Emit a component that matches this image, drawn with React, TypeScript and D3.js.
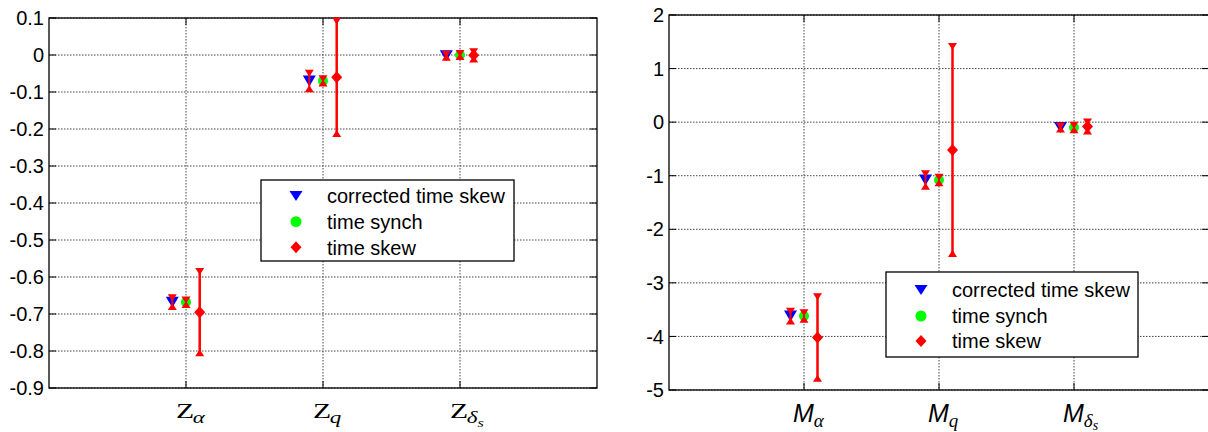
import React from 'react';
import * as d3 from 'd3';

// ---------- data ----------
const seriesNames = ['corrected time skew', 'time synch', 'time skew'];
const categoryPositions = [1, 2, 3];
const seriesOffsets = [-0.1, 0, 0.1];

const zSubscripts = ['α', 'q', 'δ'];
const mSubscripts = ['α', 'q', 'δ'];

const zCorrected = [-0.668, -0.07, -0.002];
const zCorrectedErr = [0.012, 0.021, 0.004];
const zSynch = [-0.668, -0.07, 0.0];
const zSynchErr = [0.006, 0.006, 0.004];
const zSkew = [-0.695, -0.06, -0.001];
const zSkewErr = [0.11, 0.152, 0.01];

const mCorrected = [-3.62, -1.08, -0.1];
const mCorrectedErr = [0.09, 0.115, 0.03];
const mSynch = [-3.62, -1.08, -0.1];
const mSynchErr = [0.06, 0.05, 0.04];
const mSkew = [-4.02, -0.52, -0.08];
const mSkewErr = [0.76, 1.93, 0.085];

const zTicks = [0.1, 0, -0.1, -0.2, -0.3, -0.4, -0.5, -0.6, -0.7, -0.8, -0.9];
const zTickLabels = ['0.1', '0', '-0.1', '-0.2', '-0.3', '-0.4', '-0.5', '-0.6', '-0.7', '-0.8', '-0.9'];
const mTicks = [2, 1, 0, -1, -2, -3, -4, -5];
const mTickLabels = ['2', '1', '0', '-1', '-2', '-3', '-4', '-5'];

const SANS = '"Liberation Sans", Arial, Helvetica, sans-serif';
const SERIF = '"Liberation Serif", "Times New Roman", serif';
const RED = '#ff0000';

const triDown = (cx: number, cy: number, w: number, h: number) =>
  `M${cx - w / 2},${cy - h / 2}L${cx + w / 2},${cy - h / 2}L${cx},${cy + h / 2}Z`;
const triUp = (cx: number, cy: number, w: number, h: number) =>
  `M${cx - w / 2},${cy + h / 2}L${cx + w / 2},${cy + h / 2}L${cx},${cy - h / 2}Z`;
const diamond = (cx: number, cy: number, w: number, h: number) =>
  `M${cx},${cy - h / 2}L${cx + w / 2},${cy}L${cx},${cy + h / 2}L${cx - w / 2},${cy}Z`;

type PanelProps = {
  x0: number; x1: number; y0: number; y1: number;
  yDomain: [number, number];
  ticks: number[]; tickLabels: string[];
  values: number[][]; errs: number[][];
  letter: string; subs: string[];
  serifLetter: boolean;
  labelBaseline: number; labelShift: number;
  legend: { x: number; y: number; w: number; h: number; rows: number[] };
};

function Panel(p: PanelProps) {
  const x = d3.scaleLinear().domain([0, 4]).range([p.x0, p.x1]);
  const y = d3.scaleLinear().domain(p.yDomain).range([p.y1, p.y0]);
  const tickLen = 7;
  const capW = 9, capH = 7;

  const errorBar = (cx: number, v: number, e: number, key: string, sw: number) => (
    <g key={key}>
      <line x1={cx} x2={cx} y1={y(v + e)} y2={y(v - e)} stroke={RED} strokeWidth={sw} />
      <path d={triDown(cx, y(v + e), capW, capH)} fill={RED} />
      <path d={triUp(cx, y(v - e), capW, capH)} fill={RED} />
    </g>
  );

  const label = (c: number, i: number) => {
    const lx = x(c) + p.labelShift;
    const b = p.labelBaseline;
    if (p.serifLetter) {
      return (
        <text key={'xl' + i} x={0} y={0} transform={`translate(${lx},${b}) scale(1.35,1)`} fontFamily={SERIF} fontSize={22} fill="#000">
          <tspan>{p.letter}</tspan>
          <tspan fontStyle="italic" fontSize={17} dx={-1} dy={5}>{p.subs[i]}</tspan>
          {i === 2 ? <tspan fontStyle="italic" fontSize={12} dy={4}>s</tspan> : null}
        </text>
      );
    }
    return (
      <text key={'xl' + i} x={lx} y={b} fontSize={25} fill="#000">
        <tspan fontFamily={SANS} fontStyle="italic">{p.letter}</tspan>
        <tspan fontFamily={SERIF} fontStyle="italic" fontSize={19} dy={5}>{p.subs[i]}</tspan>
        {i === 2 ? <tspan fontFamily={SERIF} fontStyle="italic" fontSize={14} dy={3}>s</tspan> : null}
      </text>
    );
  };

  return (
    <g>
      <defs>
        <clipPath id={`clip${p.x0}`}>
          <rect x={p.x0} y={p.y0 - 1} width={p.x1 - p.x0} height={p.y1 - p.y0 + 2} />
        </clipPath>
      </defs>
      {/* grid */}
      {p.ticks.map((t, i) => (
        <line key={'gy' + i} x1={p.x0} x2={p.x1} y1={y(t)} y2={y(t)} stroke="#444" strokeWidth={1} strokeDasharray="1.5,1.5" />
      ))}
      {categoryPositions.map((c, i) => (
        <line key={'gx' + i} x1={x(c)} x2={x(c)} y1={p.y0} y2={p.y1} stroke="#444" strokeWidth={1} strokeDasharray="1.5,1.5" />
      ))}
      {/* ticks */}
      {p.ticks.map((t, i) => (
        <g key={'ty' + i}>
          <line x1={p.x0} x2={p.x0 + tickLen} y1={y(t)} y2={y(t)} stroke="#000" />
          <line x1={p.x1} x2={p.x1 - tickLen} y1={y(t)} y2={y(t)} stroke="#000" />
          <text x={p.x0 - 5} y={y(t)} dy="0.36em" textAnchor="end" fontFamily={SANS} fontSize={20} fill="#000">
            {p.tickLabels[i]}
          </text>
        </g>
      ))}
      {categoryPositions.map((c, i) => (
        <g key={'tx' + i}>
          <line x1={x(c)} x2={x(c)} y1={p.y1} y2={p.y1 - tickLen} stroke="#000" />
          <line x1={x(c)} x2={x(c)} y1={p.y0} y2={p.y0 + tickLen} stroke="#000" />
        </g>
      ))}
      {/* frame */}
      <rect x={p.x0} y={p.y0} width={p.x1 - p.x0} height={p.y1 - p.y0} fill="none" stroke="#000" strokeWidth={1.3} />
      {/* data */}
      <g clipPath={`url(#clip${p.x0})`}>
        {categoryPositions.map((c, i) => {
          const cx0 = x(c + seriesOffsets[0]);
          const cx1 = x(c + seriesOffsets[1]);
          const cx2 = x(c + seriesOffsets[2]);
          return (
            <g key={'d' + i}>
              <path d={triDown(cx0, y(p.values[0][i]), 13, 11)} fill="#0000ff" />
              {errorBar(cx0, p.values[0][i], p.errs[0][i], 'e0', 2)}
              <circle cx={cx1} cy={y(p.values[1][i])} r={5} fill="#00ff00" />
              {errorBar(cx1, p.values[1][i], p.errs[1][i], 'e1', 2)}
              {errorBar(cx2, p.values[2][i], p.errs[2][i], 'e2', 2.5)}
              <path d={diamond(cx2, y(p.values[2][i]), 11, 12)} fill={RED} />
            </g>
          );
        })}
      </g>
      {/* x labels */}
      {categoryPositions.map((c, i) => label(c, i))}
      {/* legend */}
      <rect x={p.legend.x} y={p.legend.y} width={p.legend.w} height={p.legend.h} fill="#fff" stroke="#000" strokeWidth={1.3} />
      {seriesNames.map((n, i) => {
        const ry = p.legend.rows[i];
        const mx = p.legend.x + 35;
        return (
          <g key={'lg' + i}>
            {i === 0 && <path d={triDown(mx, ry, 13, 10)} fill="#0000ff" />}
            {i === 1 && <circle cx={mx} cy={ry} r={5.5} fill="#00ff00" />}
            {i === 2 && <path d={diamond(mx, ry, 11, 12)} fill={RED} />}
            <text x={p.legend.x + 66} y={ry} dy="0.36em" fontFamily={SANS} fontSize={20} fill="#000">{n}</text>
          </g>
        );
      })}
    </g>
  );
}

export default function App() {
  return (
    <svg width={1208} height={432} style={{ position: 'absolute', left: 0, top: 0, background: '#fff' }}>
      <rect width={1208} height={432} fill="#fff" />
      <Panel
        x0={49} x1={597} y0={18} y1={388}
        yDomain={[-0.9, 0.1]}
        ticks={zTicks} tickLabels={zTickLabels}
        values={[zCorrected, zSynch, zSkew]} errs={[zCorrectedErr, zSynchErr, zSkewErr]}
        letter="Z" subs={zSubscripts} serifLetter={true}
        labelBaseline={418} labelShift={-10}
        legend={{ x: 261, y: 180, w: 253, h: 81, rows: [196, 221.7, 247.3] }}
      />
      <Panel
        x0={669} x1={1209} y0={15} y1={390}
        yDomain={[-5, 2]}
        ticks={mTicks} tickLabels={mTickLabels}
        values={[mCorrected, mSynch, mSkew]} errs={[mCorrectedErr, mSynchErr, mSkewErr]}
        letter="M" subs={mSubscripts} serifLetter={false}
        labelBaseline={422} labelShift={-11}
        legend={{ x: 886, y: 272, w: 252, h: 85, rows: [290, 316, 341] }}
      />
    </svg>
  );
}
